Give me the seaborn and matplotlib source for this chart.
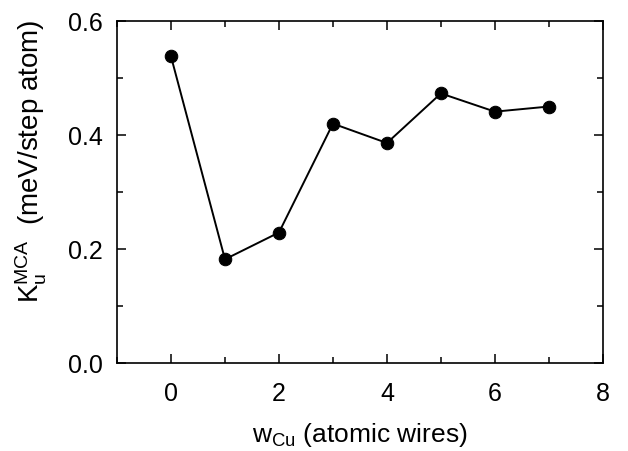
import matplotlib
matplotlib.use("Agg")
import matplotlib.pyplot as plt
import seaborn as sns
import pandas as pd
from matplotlib.ticker import MultipleLocator, FormatStrFormatter

w_cu = [0, 1, 2, 3, 4, 5, 6, 7]
k_u = [0.538, 0.182, 0.229, 0.420, 0.386, 0.473, 0.441, 0.450]

sns.set_theme(style="ticks")
plt.rcParams['font.family'] = ['Liberation Sans', 'DejaVu Sans']
plt.rcParams['mathtext.fontset'] = 'custom'
plt.rcParams['mathtext.rm'] = 'Liberation Sans'
plt.rcParams['mathtext.it'] = 'Liberation Sans'
plt.rcParams['axes.labelcolor'] = 'black'
plt.rcParams['text.color'] = 'black'

df = pd.DataFrame({"w": w_cu, "k": k_u})

fig = plt.figure(figsize=(6.28, 4.51), dpi=100)
ax = fig.add_axes([0.1863, 0.195, 0.7737, 0.7584])
sns.lineplot(data=df, x="w", y="k", ax=ax, color="black", linewidth=1.4,
             marker="o", markersize=9, markeredgecolor="black", markerfacecolor="black")

ax.set_xlim(-1, 8)
ax.set_ylim(0, 0.6)
ax.xaxis.set_major_locator(MultipleLocator(2))
ax.xaxis.set_minor_locator(MultipleLocator(1))
ax.yaxis.set_major_locator(MultipleLocator(0.2))
ax.yaxis.set_minor_locator(MultipleLocator(0.1))
ax.yaxis.set_major_formatter(FormatStrFormatter('%.1f'))
ax.tick_params(which="both", direction="in", top=True, right=True, width=1.1, colors="black", labelsize=18)
ax.tick_params(axis="x", which="major", pad=14)
ax.tick_params(axis="y", which="major", pad=10)
ax.tick_params(which="major", length=6.5)
ax.tick_params(which="minor", length=4)
for s in ax.spines.values():
    s.set_linewidth(1.2)
    s.set_color("black")

ax.set_xlabel(r"$\mathregular{w_{Cu}}$ (atomic wires)", fontsize=19, color="black")
ax.set_ylabel(r"$\mathregular{K_u^{MCA}}$  (meV/step atom)", fontsize=20, color="black")
ax.xaxis.set_label_coords(0.5, -0.168)
ax.yaxis.set_label_coords(-0.14, 0.59)

fig.savefig("out.png", dpi=100)
